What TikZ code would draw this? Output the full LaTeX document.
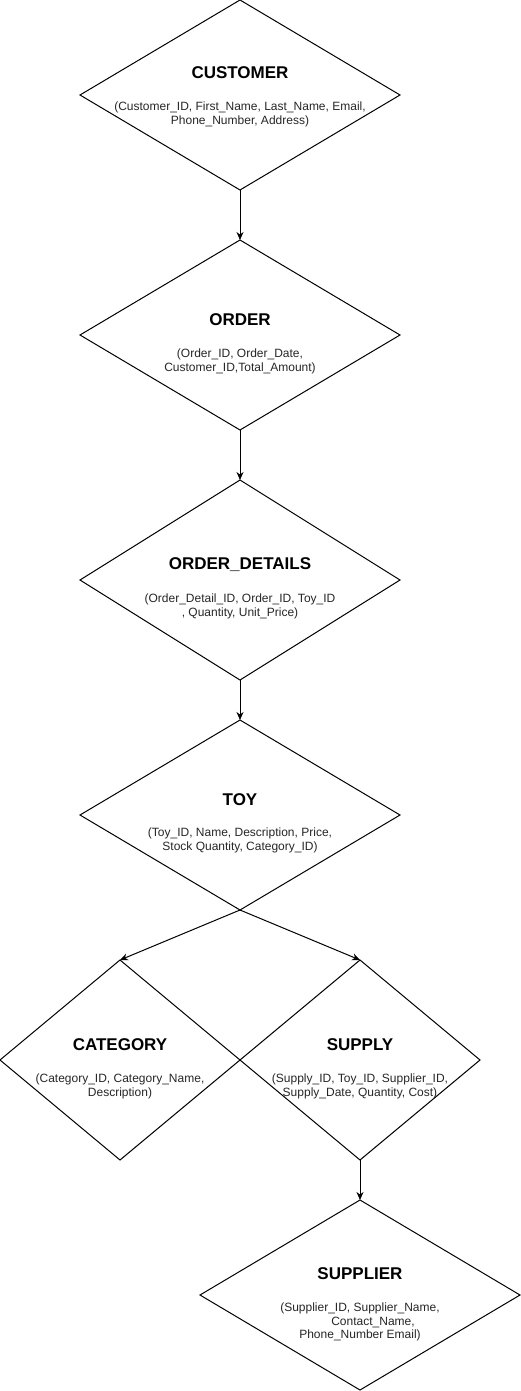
\documentclass[tikz,border=0pt]{standalone}
\usepackage{fontspec}
\setmainfont{Liberation Sans}
\usetikzlibrary{arrows.meta,calc,positioning,shapes.geometric}
\tikzstyle{entity}=[
  diamond,
  draw=black,
  line width=1pt,
  inner sep=0pt,
  outer sep=0pt,
  minimum width=320pt,
  minimum height=190pt,
]
\tikzstyle{narrow}=[
  minimum width=240pt,
  minimum height=200pt,
]
\tikzstyle{title}=[
  font={\fontsize{17}{20}\selectfont\bfseries},
  inner sep=0pt,
]
\tikzstyle{attrs}=[
  font={\fontsize{12}{13.8}\selectfont},
  text=black!85,
  align=center,
  inner sep=0pt,
]
\tikzstyle{arrow}=[
  draw=black,
  line width=1pt,
  -{Stealth[length=8pt,width=7pt]},
]

\begin{document}
\begin{tikzpicture}[x=1pt,y=1pt]
  \useasboundingbox (0,0) rectangle (521,-1391);
  %% entities
  \node (customer) [entity] at (240,-95) {};
  \node (order) [entity, below=50pt of customer] {};
  \node (details) [entity, below=50pt of order, minimum height=200pt] {};
  \node (toy) [entity, below=40pt of details] {};
  \node (category) [entity, narrow] at (120,-1060) {};
  \node (supply) [entity, narrow] at (360,-1060) {};
  \node (supplier) [entity, below=40pt of supply] {};
  %% texts
  \node (customer-name) [title] at ($(customer)+(0,22)$) {CUSTOMER};
  \node (customer-attrs) [attrs] at ($(customer)+(0,-19)$)
    {(Customer\_ID, First\_Name, Last\_Name, Email,\\Phone\_Number, Address)};
  \node (order-name) [title] at ($(order)+(0,15)$) {ORDER};
  \node (order-attrs) [attrs] at ($(order)+(0,-26)$)
    {(Order\_ID, Order\_Date,\\Customer\_ID,Total\_Amount)};
  \node (details-name) [title] at ($(details)+(0,15)$) {ORDER\_DETAILS};
  \node (details-attrs) [attrs] at ($(details)+(0,-26)$)
    {(Order\_Detail\_ID, Order\_ID, Toy\_ID\\, Quantity, Unit\_Price)};
  \node (toy-name) [title] at ($(toy)+(0,15)$) {TOY};
  \node (toy-attrs) [attrs] at ($(toy)+(0,-25)$)
    {(Toy\_ID, Name, Description, Price,\\Stock Quantity, Category\_ID)};
  \node (category-name) [title] at ($(category)+(0,15)$) {CATEGORY};
  \node (category-attrs) [attrs] at ($(category)+(0,-26)$)
    {(Category\_ID, Category\_Name,\\Description)};
  \node (supply-name) [title] at ($(supply)+(0,15)$) {SUPPLY};
  \node (supply-attrs) [attrs] at ($(supply)+(0,-26)$)
    {(Supply\_ID, Toy\_ID, Supplier\_ID,\\Supply\_Date, Quantity, Cost)};
  \node (supplier-name) [title] at ($(supplier)+(0,21)$) {SUPPLIER};
  \node (supplier-attrs) [attrs] at ($(supplier)+(0,-27)$)
    {(Supplier\_ID, Supplier\_Name,\\\hspace*{26pt}Contact\_Name,\\Phone\_Number Email)};
  %% links
  \draw [arrow] (customer.south) -- (order.north);
  \draw [arrow] (order.south) -- (details.north);
  \draw [arrow] (details.south) -- (toy.north);
  \draw [arrow] (toy.south) -- (category.north);
  \draw [arrow] (toy.south) -- (supply.north);
  \draw [arrow] (supply.south) -- (supplier.north);
\end{tikzpicture}
\end{document}
